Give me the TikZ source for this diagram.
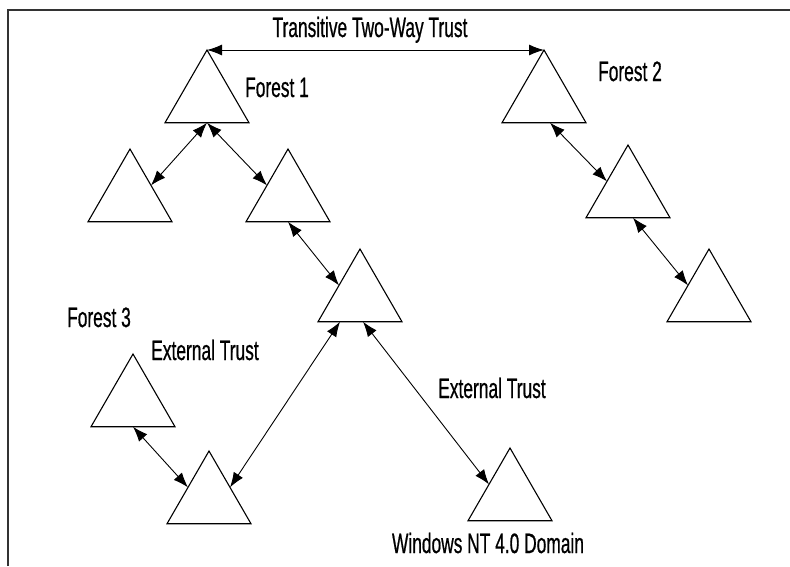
\documentclass[tikz,border=0pt]{standalone}
\usepackage{fontspec}
\setmainfont[FakeStretch=0.62,FakeBold=0.6]{Liberation Sans}
\usepackage{tikz}
\usetikzlibrary{
	arrows.meta, shapes.geometric, positioning, calc
}

\begin{document}
\begin{tikzpicture}[x=1pt,y=-1pt,
		domtri/.style={regular polygon, regular polygon sides=3, draw, line width=1.1pt,
			minimum size=97pt, inner sep=0pt, outer sep=0pt},
		trust/.style={{Latex[length=15pt,width=11pt]}-{Latex[length=15pt,width=11pt]}, line width=0.9pt},
		lbl/.style={anchor=base, inner sep=0pt, font=\fontsize{28}{32}\selectfont}]
	\useasboundingbox (0,0) rectangle (790,566);
	\draw[line width=1.5pt, black!80] (8,566)--(8,10)--(790,10);
	% Forest 1
	\node[domtri] (f1) at (207,98.5) {};
	\node[domtri] (f1a) at (130,197.5) {};
	\node[domtri] (f1b) at (288,197.5) {};
	\node[domtri] (f1c) at (360,297.5) {};
	% Forest 2
	\node[domtri] (f2) at (544,98.5) {};
	\node[domtri] (f2a) at (628,193.5) {};
	\node[domtri] (f2b) at (709,297.5) {};
	% Forest 3 and NT domain
	\node[domtri] (f3) at (133,402.5) {};
	\node[domtri] (f3a) at (209,499.5) {};
	\node[domtri] (nt) at (510,496.5) {};
	% trusts
	\draw[trust] (f1.corner 1) -- (f2.corner 1);
	\draw[trust] (f1.side 2) -- (f1a.side 3);
	\draw[trust] (f1.side 2) -- (f1b.side 1);
	\draw[trust] (f1b.side 2) -- (f1c.side 1);
	\draw[trust] ($(f2.side 2)+(6,0)$) -- (f2a.side 1);
	\draw[trust] ($(f2a.side 2)+(5,0)$) -- (f2b.side 1);
	\draw[trust] (f3.side 2) -- (f3a.side 1);
	\draw[trust] ($(f1c.side 2)+(-20,0)$) -- (f3a.side 3);
	\draw[trust] ($(f1c.side 2)+(3,0)$) -- (nt.side 1);
	% labels
	\node[lbl] (ttt) at (370,37) {Transitive Two-Way Trust};
	\node[lbl] (n1) at (277,97) {Forest 1};
	\node[lbl] (n2) at (630,81) {Forest 2};
	\node[lbl] (n3) at (99,327) {Forest 3};
	\node[lbl] (ext1) at (205,360) {External Trust};
	\node[lbl] (ext2) at (492,398) {External Trust};
	\node[lbl] (ntl) at (488,553) {Windows NT 4.0 Domain};
\end{tikzpicture}
\end{document}
